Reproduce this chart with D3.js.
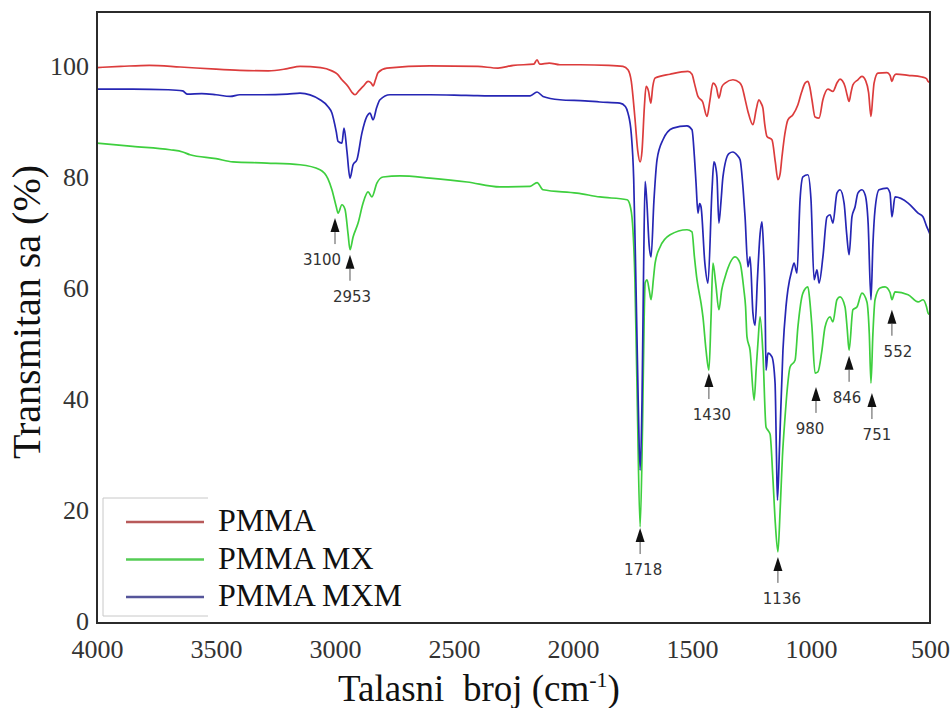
<!DOCTYPE html>
<html lang="en">
<head>
<meta charset="utf-8">
<title>FTIR PMMA</title>
<script src="https://d3js.org/d3.v7.min.js"></script>
<style>
    body { margin: 0; background: #fff; }
    .tick text {
        font-family: "Liberation Serif", "Times New Roman", serif;
        font-size: 26px;
        fill: #333;
    }
    .peak {
        font-family: "DejaVu Sans", Verdana, sans-serif;
        font-size: 15px;
        fill: #333;
    }
    .title {
        font-family: "Liberation Serif", "Times New Roman", serif;
        fill: #111;
    }
</style>
</head>
<body>
<svg></svg>
<script>
    const width = 952;
    const height = 708;

    // [wavenumber cm-1, transmittance %]
    const pmma = [[4000,100.0],[3900,100.2],[3780,100.4],[3650,100.1],[3500,99.7],[3400,99.5],[3280,99.4],[3200,99.8],[3147,100.2],[3060,100.0],[3013,99.4],[2990,98.8],[2971,97.8],[2945,96.6],[2930,95.6],[2916,95.1],[2900,95.8],[2882,96.6],[2861,97.5],[2848,97.2],[2840,96.7],[2830,97.8],[2819,99.1],[2782,99.9],[2601,100.3],[2400,100.2],[2315,99.9],[2250,100.4],[2165,100.6],[2151,101.4],[2140,100.6],[2100,100.8],[2055,100.5],[1971,100.5],[1850,100.4],[1790,100.2],[1769,99.6],[1755,97.5],[1740,91],[1728,85],[1718,83.0],[1710,85],[1700,93],[1693,96.6],[1683,95.8],[1673,93.6],[1665,96.5],[1655,98.1],[1592,98.8],[1517,99.3],[1500,98.8],[1490,97.2],[1475,94.8],[1455,93.8],[1437,91.2],[1425,94],[1412,97.2],[1398,96.5],[1387,94.5],[1375,96.5],[1361,97.2],[1328,97.8],[1300,97.3],[1290,96.6],[1278,94.5],[1265,92.1],[1244,89.7],[1230,92.5],[1219,94.2],[1210,93.6],[1202,92.7],[1195,90],[1185,87.6],[1164,87.0],[1150,83],[1139,79.8],[1130,80.8],[1122,83.9],[1110,88],[1097,90.6],[1076,91.5],[1055,93.3],[1040,95.5],[1025,97.2],[1013,97.5],[1005,96.5],[996,94.2],[983,91.1],[966,90.9],[950,94.2],[929,96.1],[908,95.7],[890,97.3],[878,97.9],[857,96.6],[848,95],[840,93.9],[832,95.5],[824,96.9],[803,97.8],[786,98.4],[770,97.6],[758,95.5],[748,91.2],[740,95],[735,97.2],[719,99.0],[681,99.1],[668,98.6],[660,97.5],[652,98.4],[643,98.8],[592,98.6],[534,98.3],[515,98],[508,97.5],[500,97.3]];

    const pmmaMX = [[4000,86.4],[3850,85.8],[3693,85.2],[3640,84.8],[3609,84.3],[3500,83.6],[3429,83.0],[3286,82.8],[3147,82.5],[3063,81.6],[3030,80.0],[3013,78],[2995,75],[2987,73.8],[2971,75.3],[2958,74.5],[2945,70],[2937,67.2],[2924,69.5],[2903,72],[2882,75.6],[2861,77.6],[2845,76.7],[2824,79.2],[2798,80.3],[2727,80.5],[2601,80.1],[2445,79.4],[2307,78.5],[2180,78.6],[2151,79.3],[2126,78],[1983,77.4],[1887,76.7],[1773,76.2],[1761,75.3],[1750,72],[1740,62],[1730,40],[1718,17.3],[1708,35],[1701,55],[1697,61.2],[1689,61.8],[1680,60],[1672,58.2],[1662,62],[1655,64.8],[1634,67.7],[1592,69.9],[1521,70.8],[1500,70.4],[1490,66],[1479,61.8],[1470,59.5],[1462,57.6],[1454,55.1],[1441,49.1],[1429,45.5],[1420,55],[1412,64.8],[1400,61],[1387,56.4],[1375,60],[1361,62.3],[1319,65.9],[1298,64.8],[1282,60],[1275,57],[1269,51.5],[1256,49.1],[1239,40.1],[1230,46],[1223,50.4],[1214,55.1],[1202,48.6],[1189,35.3],[1181,34.7],[1172,34],[1160,26],[1150,18],[1139,12.8],[1130,20],[1120,30],[1109,37.1],[1100,42],[1088,46.1],[1067,47.3],[1055,53.3],[1034,59.4],[1013,60.5],[1005,58],[996,53.3],[983,45],[971,45.2],[954,49.1],[941,53.3],[920,55.1],[908,54.2],[891,58.2],[878,58.7],[857,56.9],[848,53],[840,49.1],[824,56.4],[807,56.9],[786,59.4],[765,57.8],[755,52],[748,43.2],[740,52],[731,58.2],[710,60.3],[689,60.5],[668,59.5],[660,58.2],[647,59.6],[592,59.1],[550,57.8],[529,58.2],[515,57],[508,55.8],[500,55.5]];

    const pmmaMXM = [[4000,96.1],[3850,96.1],[3700,96.0],[3640,95.8],[3620,95.2],[3560,95.3],[3500,95.1],[3440,94.8],[3400,95.1],[3300,95.1],[3200,95.2],[3147,95.4],[3063,94.2],[3030,93.0],[3013,91.8],[2995,88.5],[2987,86.7],[2971,86.4],[2962,89.1],[2950,85],[2937,80.1],[2924,82.5],[2908,83.4],[2887,88.2],[2866,91.2],[2853,91.8],[2840,90.6],[2825,92.8],[2811,94.2],[2769,95.1],[2601,95.1],[2450,95.0],[2307,94.9],[2180,94.9],[2151,95.6],[2126,94.8],[2055,94.2],[1950,94.0],[1887,93.8],[1803,93.6],[1780,93.0],[1769,91.8],[1755,88],[1745,80],[1735,60],[1726,40],[1718,27.5],[1710,40],[1703,65],[1697,79.5],[1690,76],[1680,68],[1672,65.9],[1660,76],[1647,83.4],[1622,87.0],[1580,89.1],[1521,89.5],[1500,88.8],[1490,84],[1483,79.2],[1475,73.8],[1468,75.5],[1462,74.9],[1446,64.8],[1433,61.2],[1416,77.9],[1408,83],[1400,82],[1395,80.3],[1387,72],[1378,76],[1370,80.3],[1345,84.5],[1328,84.8],[1310,84.2],[1298,83.4],[1285,78],[1277,73.1],[1265,64.1],[1256,65.9],[1244,55.8],[1235,53.6],[1225,62],[1214,70],[1206,72.2],[1200,68],[1193,58],[1189,45.5],[1181,48.6],[1164,47.9],[1151,43.2],[1145,30],[1141,22.1],[1132,32],[1118,49],[1105,57],[1097,60],[1080,63.6],[1071,64.8],[1059,63],[1046,76.2],[1034,80.3],[1013,80.7],[1000,76.2],[987,61.8],[975,63.6],[966,61.2],[950,65.9],[933,73.1],[920,73.5],[908,72],[891,77.4],[878,78],[861,75.6],[850,70],[840,66.3],[828,73.1],[815,74.9],[803,77.4],[786,78.0],[772,77],[760,72],[748,58.2],[740,68],[731,74.4],[714,78],[681,78.3],[668,77.4],[660,73.1],[647,76.7],[592,75.6],[550,73.8],[529,73.1],[515,71.5],[504,70.4],[500,70.0]];

    const xTicks = [4000, 3500, 3000, 2500, 2000, 1500, 1000, 500];
    const yTicks = [0, 20, 40, 60, 80, 100];

    const seriesNames = ['PMMA', 'PMMA MX', 'PMMA MXM'];

    // peak arrows: label, arrow position (cm-1), arrow tip (%), label shift
    const peaks = [
        {label: '3100', wn: 3000, tip: 72.9, dx: -13},
        {label: '2953', wn: 2937, tip: 66.3, dx: 2},
        {label: '1718', wn: 1718, tip: 17.1, dx: 3},
        {label: '1430', wn: 1429, tip: 45.0, dx: 3},
        {label: '1136', wn: 1139, tip: 11.9, dx: 4},
        {label: '980', wn: 979, tip: 42.5, dx: -6},
        {label: '846', wn: 840, tip: 48.1, dx: -2},
        {label: '751', wn: 744, tip: 41.4, dx: 5},
        {label: '552', wn: 660, tip: 56.4, dx: 6}
    ];

    const margin = {left: 97, right: 930, top: 12, bottom: 623};

    const svg = d3.select('svg').attr('width', width).attr('height', height);

    const x = d3.scaleLinear().domain([4000, 500]).range([margin.left, margin.right]);
    const y = d3.scaleLinear().domain([0, 110]).range([margin.bottom, margin.top]);

    svg.append('g')
        .attr('transform', `translate(${margin.left},0)`)
        .call(d3.axisLeft(y).tickValues(yTicks).tickSize(0).tickPadding(8))
        .call(g => g.select('.domain').remove())
        .call(g => g.selectAll('.tick text').attr('dy', '0.26em'));

    svg.append('g')
        .attr('transform', `translate(0,${margin.bottom})`)
        .call(d3.axisBottom(x).tickValues(xTicks).tickSize(0).tickPadding(17).tickFormat(d3.format('d')))
        .call(g => g.select('.domain').remove());

    const line = d3.line()
        .x(d => x(d[0]))
        .y(d => y(d[1]))
        .curve(d3.curveMonotoneX);

    const plotColors = {'PMMA': '#dc3c3c', 'PMMA MX': '#3ecf3e', 'PMMA MXM': '#2626b4'};
    const legendColors = {'PMMA': '#b85a5a', 'PMMA MX': '#55cc55', 'PMMA MXM': '#55559a'};
    const seriesData = {'PMMA': pmma, 'PMMA MX': pmmaMX, 'PMMA MXM': pmmaMXM};

    // green underneath, blue over it, red on top
    ['PMMA MX', 'PMMA MXM', 'PMMA'].forEach(name => {
        svg.append('path')
            .datum(seriesData[name])
            .attr('fill', 'none')
            .attr('stroke', plotColors[name])
            .attr('stroke-width', 1.7)
            .attr('stroke-linejoin', 'round')
            .attr('d', line);
    });

    // frame
    svg.append('rect')
        .attr('x', margin.left).attr('y', margin.top)
        .attr('width', margin.right - margin.left).attr('height', margin.bottom - margin.top)
        .attr('fill', 'none')
        .attr('stroke', '#2b2b2b')
        .attr('stroke-width', 2);

    // peak markers
    const pk = svg.append('g').selectAll('g').data(peaks).enter().append('g')
        .attr('transform', d => `translate(${x(d.wn)},${y(d.tip)})`);
    pk.append('path')
        .attr('d', 'M0,0 L4.5,14 L-4.5,14 Z')
        .attr('fill', '#111');
    pk.append('line')
        .attr('x1', 0).attr('x2', 0)
        .attr('y1', 14).attr('y2', 26)
        .attr('stroke', '#555')
        .attr('stroke-width', 1);
    pk.append('text')
        .attr('class', 'peak')
        .attr('x', d => d.dx)
        .attr('y', 47)
        .attr('text-anchor', 'middle')
        .text(d => d.label);

    // legend
    const legend = svg.append('g');
    legend.append('rect')
        .attr('x', 103).attr('y', 498)
        .attr('width', 105).attr('height', 118)
        .attr('fill', '#fff');
    legend.append('path')
        .attr('d', 'M208,498 H103 V616 H208')
        .attr('fill', 'none')
        .attr('stroke', '#c8c8c8')
        .attr('stroke-width', 1);

    seriesNames.forEach((name, i) => {
        const ly = 522 + i * 37.5;
        legend.append('line')
            .attr('x1', 126).attr('x2', 204)
            .attr('y1', ly).attr('y2', ly)
            .attr('stroke', legendColors[name])
            .attr('stroke-width', 2.5);
        legend.append('text')
            .attr('class', 'title')
            .attr('x', 218)
            .attr('y', ly + 9)
            .style('font-size', '32px')
            .text(name);
    });

    // axis titles
    svg.append('text')
        .attr('class', 'title')
        .attr('transform', 'translate(40,312) rotate(-90)')
        .attr('text-anchor', 'middle')
        .style('font-family', '"Liberation Serif", "Times New Roman", serif')
        .style('font-size', '40px')
        .text('Transmitan sa (%)');

    const xt = svg.append('text')
        .attr('class', 'title')
        .attr('x', 479)
        .attr('y', 701)
        .attr('text-anchor', 'middle')
        .style('font-size', '37px');
    xt.append('tspan').text('Talasni\u00a0 broj (cm');
    xt.append('tspan').attr('dy', -14).style('font-size', '22px').text('-1');
    xt.append('tspan').attr('dy', 14).text(')');
</script>
</body>
</html>
